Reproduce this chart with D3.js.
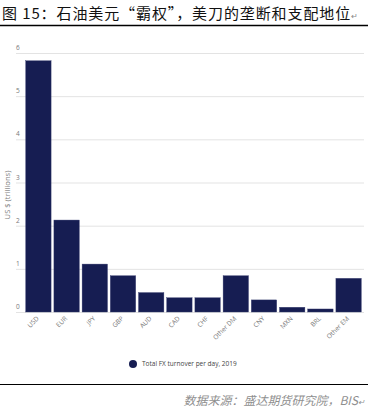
<!DOCTYPE html>
<html>
<head>
<meta charset="utf-8">
<script src="https://cdn.jsdelivr.net/npm/d3@7"></script>
<style>
  html, body { margin: 0; padding: 0; background: #fff; }
  svg { display: block; }
</style>
</head>
<body>
<svg id="chart" width="368" height="409"></svg>
<script>
const currencies = ['USD', 'EUR', 'JPY', 'GBP', 'AUD', 'CAD', 'CHF', 'Other DM', 'CNY', 'MXN', 'BRL', 'Other EM'];
const turnover = [5.82, 2.13, 1.11, 0.84, 0.45, 0.33, 0.33, 0.84, 0.28, 0.11, 0.07, 0.78];
const yTicks = [0, 1, 2, 3, 4, 5, 6];
const seriesName = 'Total FX turnover per day, 2019';

const svg = d3.select('#chart');
const navy = '#161d52';
const font = '"Open Sans", sans-serif';
const cjk = '"Noto Sans CJK SC", sans-serif';

// header and footer
svg.append('text').attr('x', 2).attr('y', 18.5)
  .attr('font-family', cjk).attr('font-size', 15).attr('letter-spacing', 0.9).attr('fill', '#111')
  .text('图 15：石油美元“霸权”，美刀的垄断和支配地位')
  .append('tspan').attr('font-size', 8).attr('fill', '#888').text('↵');
svg.append('line').attr('x1', 0).attr('x2', 368).attr('y1', 25.5).attr('y2', 25.5)
  .attr('stroke', '#000').attr('stroke-width', 1.6);
svg.append('line').attr('x1', 0).attr('x2', 368).attr('y1', 384.5).attr('y2', 384.5)
  .attr('stroke', '#000').attr('stroke-width', 1.2);
svg.append('text').attr('x', 365).attr('y', 404.5).attr('text-anchor', 'end')
  .attr('font-family', cjk).attr('font-size', 12).attr('font-style', 'italic')
  .attr('fill', '#8f8f8f')
  .text('数据来源：盛达期货研究院，BIS')
  .append('tspan').attr('font-size', 8).text('↵');

const x = d3.scaleBand().domain(currencies).range([24.3, 362.7]).paddingInner(0.1).paddingOuter(0.05);
const y = d3.scaleLinear().domain([0, 6]).range([312, 53]);

// gridlines + tick labels
const grid = svg.append('g');
grid.selectAll('line').data(yTicks).join('line')
  .attr('x1', 16).attr('x2', 364)
  .attr('y1', (d) => y(d) + 0.5).attr('y2', (d) => y(d) + 0.5)
  .attr('stroke', '#e3e3e3').attr('stroke-width', 1);
grid.selectAll('text').data(yTicks).join('text')
  .attr('x', 16).attr('y', (d) => y(d) - 3)
  .attr('font-family', font).attr('font-size', 6.5).attr('fill', '#777')
  .text((d) => d);

svg.append('text')
  .attr('transform', 'translate(9.5,195) rotate(-90)')
  .attr('text-anchor', 'middle')
  .attr('font-family', font).attr('font-size', 7.6).attr('fill', '#7a7a7a')
  .text('US $ (trillions)');

// bars
svg.append('g').selectAll('rect').data(currencies).join('rect')
  .attr('x', (d) => x(d)).attr('width', x.bandwidth())
  .attr('y', (d, i) => y(turnover[i]))
  .attr('height', (d, i) => y(0) - y(turnover[i]))
  .attr('fill', navy).attr('stroke', '#3a4070').attr('stroke-width', 0.4);

// x labels
svg.append('g').selectAll('text').data(currencies).join('text')
  .attr('transform', (d) => `translate(${x(d) + x.bandwidth() / 2 + 1},${319}) rotate(-45)`)
  .attr('text-anchor', 'end')
  .attr('font-family', font).attr('font-size', 6.5).attr('fill', '#777')
  .text((d) => d);

// legend
const legend = svg.append('g').attr('transform', 'translate(133,364)');
legend.append('circle').attr('r', 4).attr('fill', navy);
legend.append('text').attr('x', 9).attr('y', 2.3)
  .attr('font-family', font).attr('font-size', 6.5).attr('fill', '#444')
  .text(seriesName);
</script>
</body>
</html>
